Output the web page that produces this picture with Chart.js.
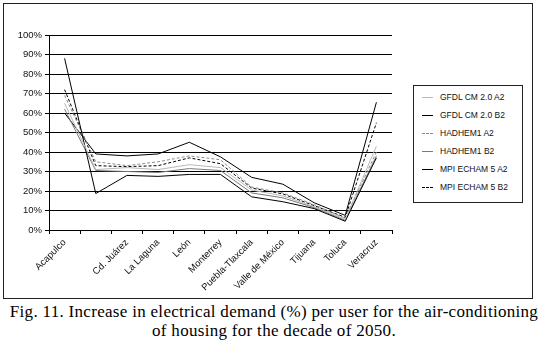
<!DOCTYPE html>
<html>
<head>
<meta charset="utf-8">
<script src="https://cdn.jsdelivr.net/npm/chart.js@4/dist/chart.umd.min.js"></script>
<style>
  body { margin: 0; background: #fff; width: 548px; height: 353px; position: relative; overflow: hidden; }
  #frame { position: absolute; left: 3px; top: 3px; width: 530px; height: 296px; border: 1px solid #222; box-sizing: border-box; }
  #chart { position: absolute; left: 0; top: 0; }
  #legend { position: absolute; left: 413px; top: 85px; width: 110px; height: 118px; border: 1px solid #222; box-sizing: border-box; background: #fff;
    font-family: "Liberation Sans", Arial, sans-serif; font-size: 8.5px; color: #111; }
  .item { position: absolute; left: 0; height: 12px; line-height: 12px; white-space: nowrap; }
  .sample { position: absolute; left: 8px; top: 6px; width: 11px; height: 0; }
  .label { position: absolute; left: 26px; top: 0; }
  #caption { position: absolute; left: 0; top: 302px; width: 548px; text-align: center;
    font-family: "Liberation Serif", "Times New Roman", serif; font-size: 17px; line-height: 19px; letter-spacing: 0.3px; color: #000; }
</style>
</head>
<body>
<div id="frame"></div>
<canvas id="chart" width="548" height="300"></canvas>
<div id="legend"></div>
<div id="caption">Fig. 11. Increase in electrical demand (%) per user for the air-conditioning<br>of housing for the decade of 2050.</div>
<script>
const cities = ['Acapulco', '', 'Cd. Juárez', 'La Laguna', 'León', 'Monterrey', 'Puebla-Tlaxcala', 'Valle de México', 'Tijuana', 'Toluca', 'Veracruz'];
const yTicks = [0, 10, 20, 30, 40, 50, 60, 70, 80, 90, 100];

// % increase per model / scenario
const gfdlA2 = [65, 31, 32, 31, 33.5, 32, 20.5, 17.5, 12, 5.5, 43];
const gfdlB2 = [88, 18.7, 28, 27.5, 28.5, 28.5, 17, 14.5, 11, 4.5, 37];
const hadA2 = [69, 35, 33, 35, 38, 36, 22, 19, 13, 6, 40];
const hadB2 = [62, 30.5, 30, 29.5, 31.5, 30.5, 19, 16.5, 11.5, 5, 38];
const mpiA2 = [60, 39, 38, 39, 45, 37.5, 27, 23.5, 14, 7.5, 65.5];
const mpiB2 = [72, 33, 32.5, 33, 37, 34, 21.5, 18.5, 12.5, 6.5, 55];

const series = [
  { label: 'GFDL CM 2.0 A2', data: gfdlA2, color: '#b8b8b8', dash: [] },
  { label: 'GFDL CM 2.0 B2', data: gfdlB2, color: '#000000', dash: [] },
  { label: 'HADHEM1  A2', data: hadA2, color: '#8c8c8c', dash: [3, 2] },
  { label: 'HADHEM1 B2', data: hadB2, color: '#7a7a7a', dash: [] },
  { label: 'MPI ECHAM 5 A2', data: mpiA2, color: '#000000', dash: [] },
  { label: 'MPI ECHAM 5 B2', data: mpiB2, color: '#000000', dash: [3, 2] }
];

const font = { family: '"Liberation Sans", Arial, sans-serif', size: 9.5 };

new Chart(document.getElementById('chart'), {
  type: 'line',
  data: {
    labels: cities,
    datasets: series.map(s => ({
      label: s.label,
      data: s.data,
      borderColor: s.color,
      borderDash: s.dash,
      borderWidth: 1,
      pointRadius: 0,
      tension: 0,
      fill: false
    }))
  },
  options: {
    responsive: false,
    animation: false,
    devicePixelRatio: 1,
    layout: { padding: { left: 0, right: 156, top: 35, bottom: 0 } },
    plugins: { legend: { display: false }, tooltip: { enabled: false } },
    scales: {
      x: {
        offset: true,
        grid: { display: true, offset: true, drawOnChartArea: false, tickLength: 4, color: '#000' },
        border: { color: '#000' },
        ticks: { autoSkip: false, minRotation: 45, maxRotation: 45, color: '#111', font: font, padding: 3 },
        afterFit: scale => { scale.height = 70; }
      },
      y: {
        min: 0,
        max: 100,
        afterBuildTicks: scale => { scale.ticks = yTicks.map(v => ({ value: v })); },
        grid: { color: '#000', tickLength: 4 },
        border: { color: '#000' },
        ticks: { color: '#111', font: font, padding: 3, callback: v => v + '%' },
        afterFit: scale => { scale.width = 49; }
      }
    }
  }
});

// legend box
const legend = document.getElementById('legend');
series.forEach((s, i) => {
  const item = document.createElement('div');
  item.className = 'item';
  item.style.top = (5 + i * 18) + 'px';
  const sample = document.createElement('span');
  sample.className = 'sample';
  sample.style.borderTop = '1px ' + (s.dash.length ? 'dashed ' : 'solid ') + s.color;
  const text = document.createElement('span');
  text.className = 'label';
  text.textContent = s.label;
  item.appendChild(sample);
  item.appendChild(text);
  legend.appendChild(item);
});
</script>
</body>
</html>
